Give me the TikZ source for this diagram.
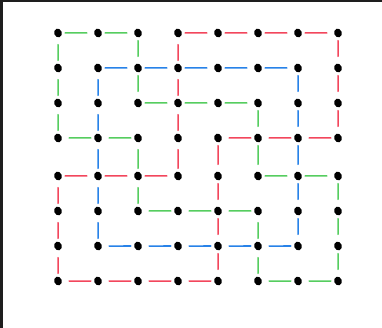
\documentclass[tikz,border=0pt]{standalone}
\usepackage{tikz}
\usetikzlibrary{shapes.geometric}
\definecolor{trailgreen}{RGB}{85,205,95}
\definecolor{trailblue}{RGB}{40,130,232}
\definecolor{trailred}{RGB}{242,70,92}
\definecolor{framegray}{RGB}{30,30,30}

\begin{document}
\begin{tikzpicture}[
    x=1pt, y=-1pt,
    dot/.style={
        ellipse, fill=black, inner sep=0pt,
        minimum width=7.5pt, minimum height=9pt, rotate=20
    },
    trail/.style={
        line width=1.5pt, line cap=round, color=#1,
        shorten <=3pt, shorten >=7pt
    },
    trail/.default=trailgreen,
]

% ── Frame ──
\useasboundingbox (0,0) rectangle (382,328);
\fill[framegray] (0,0) rectangle (382,2.5);
\fill[framegray] (0,0) rectangle (2.5,328);

% ── Dots ──
\foreach \y [count=\r from 0] in {33,68,103,138,176,211,246,281} {
    \foreach \c in {0,...,7} {
        \node[dot] (d-\c-\r) at ({58+40*\c},\y) {};
    }
}

% ── Green loop ──
\foreach \a/\b in {0-0/1-0, 1-0/2-0, 2-0/2-1, 2-1/2-2, 2-2/3-2, 3-2/4-2,
                   4-2/5-2, 5-2/5-3, 5-3/5-4, 5-4/6-4, 6-4/7-4, 7-4/7-5,
                   7-5/7-6, 7-6/7-7, 7-7/6-7, 6-7/5-7, 5-7/5-6, 5-6/5-5,
                   5-5/4-5, 4-5/3-5, 3-5/2-5, 2-5/2-4, 2-4/2-3, 2-3/1-3,
                   1-3/0-3, 0-3/0-2, 0-2/0-1, 0-1/0-0}
    \draw[trail=trailgreen] (d-\a) -- (d-\b);

% ── Blue loop ──
\foreach \a/\b in {1-1/2-1, 2-1/3-1, 3-1/4-1, 4-1/5-1, 5-1/6-1, 6-1/6-2,
                   6-2/6-3, 6-3/6-4, 6-4/6-5, 6-5/6-6, 6-6/5-6, 5-6/4-6,
                   4-6/3-6, 3-6/2-6, 2-6/1-6, 1-6/1-5, 1-5/1-4, 1-4/1-3,
                   1-3/1-2, 1-2/1-1}
    \draw[trail=trailblue] (d-\a) -- (d-\b);

% ── Red loop ──
\foreach \a/\b in {3-0/4-0, 4-0/5-0, 5-0/6-0, 6-0/7-0, 7-0/7-1, 7-1/7-2,
                   7-2/7-3, 7-3/6-3, 6-3/5-3, 5-3/4-3, 4-3/4-4, 4-4/4-5,
                   4-5/4-6, 4-6/4-7, 4-7/3-7, 3-7/2-7, 2-7/1-7, 1-7/0-7,
                   0-7/0-6, 0-6/0-5, 0-5/0-4, 0-4/1-4, 1-4/2-4, 2-4/3-4,
                   3-4/3-3, 3-3/3-2, 3-2/3-1, 3-1/3-0}
    \draw[trail=trailred] (d-\a) -- (d-\b);

\end{tikzpicture}
\end{document}
